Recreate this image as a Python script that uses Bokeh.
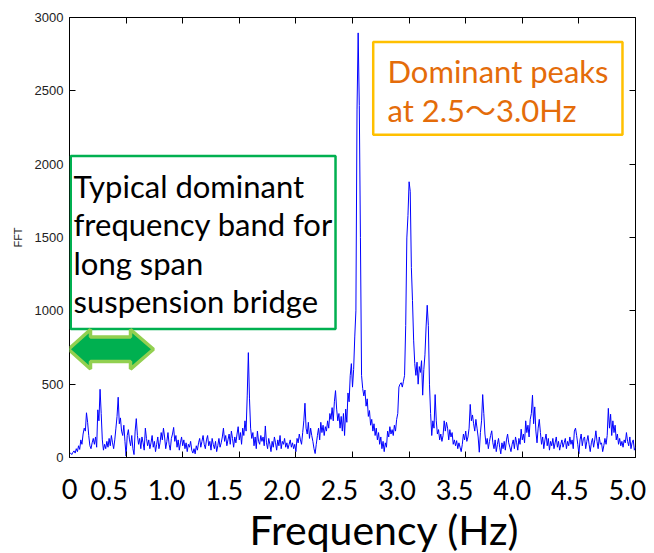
from bokeh.plotting import figure
from bokeh.models import (Range1d, LinearAxis, FixedTicker, BoxAnnotation,
                          PolyAnnotation, Label, Title, CustomLabelingPolicy)
from bokeh.embed import file_html
from bokeh.resources import INLINE

# ---------------- data (FFT amplitude, 0.01 Hz steps) ----------------
amp_000 = [25, 30, 20, 35, 45, 30, 60, 40, 80, 55, 120, 90, 160, 200, 180, 305, 240, 150, 80, 60, 100, 130, 90, 140, 70]
amp_025 = [325, 250, 465, 300, 120, 50, 90, 60, 110, 70, 130, 80, 150, 100, 60, 120, 200, 280, 411, 230, 270, 180, 150, 220, 110]
amp_050 = [10, 150, 190, 120, 80, 150, 60, 20, 180, 265, 150, 90, 130, 60, 140, 100, 50, 200, 130, 80, 120, 60, 100, 150, 70]
amp_075 = [110, 40, 90, 140, 60, 100, 170, 120, 200, 140, 60, 110, 170, 90, 50, 130, 160, 205, 110, 150, 70, 120, 50, 100, 140]
amp_100 = [80, 120, 60, 100, 40, 90, 70, 110, 50, 30, 60, 25, 80, 50, 100, 130, 70, 110, 150, 90, 60, 120, 150, 80, 110]
amp_125 = [50, 130, 90, 60, 110, 40, 80, 130, 70, 100, 140, 200, 110, 150, 80, 120, 160, 90, 180, 130, 70, 140, 100, 160, 210]
amp_150 = [120, 170, 90, 200, 150, 250, 180, 420, 715, 400, 200, 130, 170, 80, 140, 60, 180, 110, 90, 150, 110, 140, 80, 215, 100]
amp_175 = [60, 130, 90, 40, 110, 70, 140, 100, 50, 120, 80, 150, 60, 110, 90, 130, 70, 100, 60, 90, 120, 70, 100, 60, 90]
amp_200 = [40, 130, 100, 160, 120, 90, 170, 250, 370, 200, 160, 240, 130, 200, 150, 110, 60, 27, 90, 150, 200, 120, 240, 170, 220]
amp_225 = [150, 210, 180, 250, 200, 300, 260, 340, 250, 380, 456, 330, 250, 300, 200, 280, 180, 300, 150, 330, 240, 440, 380, 560, 640]
amp_250 = [480, 600, 822, 1000, 2370, 2895, 2400, 1500, 560, 470, 420, 460, 350, 400, 280, 320, 220, 260, 180, 230, 150, 200, 120, 170, 90]
amp_275 = [140, 60, 110, 40, 100, 70, 180, 140, 210, 160, 190, 150, 220, 180, 260, 300, 480, 500, 510, 480, 520, 560, 900, 1497, 1650]
amp_300 = [1880, 1815, 1295, 1070, 800, 640, 560, 650, 500, 620, 580, 660, 425, 600, 700, 890, 1038, 900, 500, 300, 150, 250, 200, 429, 250]
amp_325 = [160, 190, 120, 160, 110, 150, 250, 180, 240, 200, 120, 190, 140, 170, 90, 120, 80, 115, 60, 100, 70, 40, 90, 160, 120]
amp_350 = [180, 110, 140, 200, 362, 250, 290, 230, 180, 260, 200, 140, 36, 170, 250, 429, 300, 160, 90, 130, 60, 110, 150, 182, 100]
amp_375 = [60, 120, 40, 90, 130, 70, 25, 100, 60, 110, 50, 120, 160, 100, 70, 40, 90, 120, 60, 140, 100, 50, 130, 90, 193]
amp_400 = [120, 160, 100, 250, 170, 220, 140, 260, 300, 425, 230, 345, 180, 100, 200, 260, 170, 90, 140, 60, 120, 160, 80, 130, 50]
amp_425 = [110, 80, 130, 60, 100, 140, 70, 110, 50, 90, 120, 70, 100, 130, 60, 110, 80, 140, 90, 120, 60, 180, 200, 150, 90]
amp_450 = [25, 120, 160, 80, 130, 140, 60, 110, 150, 90, 40, 100, 130, 70, 120, 182, 110, 60, 140, 90, 100, 40, 80, 130, 90]
amp_475 = [150, 335, 200, 295, 150, 250, 170, 220, 120, 160, 90, 130, 80, 110, 70, 120, 100, 170, 110, 80, 140, 60, 100, 120, 50]
amp_500 = [70]

fft_amp = (amp_000 + amp_025 + amp_050 + amp_075 + amp_100 + amp_125 + amp_150 +
           amp_175 + amp_200 + amp_225 + amp_250 + amp_275 + amp_300 + amp_325 +
           amp_350 + amp_375 + amp_400 + amp_425 + amp_450 + amp_475 + amp_500)
freq_step = 0.01
freq_hz = [round(i * freq_step, 2) for i in range(len(fft_amp))]

x_ticks = [0.0, 0.5, 1.0, 1.5, 2.0, 2.5, 3.0, 3.5, 4.0, 4.5, 5.0]
x_tick_labels = ["0", "0.5", "1.0", "1.5", "2.0", "2.5", "3.0", "3.5", "4.0", "4.5", "5.0"]
y_ticks = [0, 500, 1000, 1500, 2000, 2500, 3000]
y_tick_labels = ["0", "500", "1000", "1500", "2000", "2500", "3000"]

green_lines = ["Typical dominant", "frequency band for", "long span", "suspension bridge"]
orange_lines = ["Dominant peaks", "at 2.5\uff5e3.0Hz"]
x_title = "Frequency (Hz)"
y_title = "FFT"

# ---------------- figure ----------------
PX_PER_HZ = 113.2
U = 3000.0 / 445.0            # data units per vertical pixel

p = figure(width=654, height=553, output_backend="svg", toolbar_location=None,
           x_range=Range1d(0, 5), y_range=Range1d(0, 3000),
           x_axis_location=None, y_axis_location=None,
           min_border_left=69, min_border_right=19, min_border_top=17, min_border_bottom=91,
           outline_line_color="black", outline_line_width=1)
p.grid.visible = False
p.background_fill_color = "white"
p.border_fill_color = "white"
# the slide's tick labels sit slightly left of their ticks
p.extra_x_ranges = {"lab": Range1d((69 - 50.9) / 115.2, (635 - 50.9) / 115.2)}

no_labels = CustomLabelingPolicy(code="""
const n = indices.size
for (let i = 0; i < n; i++) indices.unset(i)
return indices
""")
first_label_only = CustomLabelingPolicy(code="""
const n = indices.size
for (let i = 1; i < n; i++) indices.unset(i)
return indices
""")

def tick_only_axis(ticks):
    return LinearAxis(ticker=FixedTicker(ticks=ticks), major_tick_in=6, major_tick_out=0,
                      minor_tick_line_color=None, axis_line_color=None,
                      major_tick_line_color="black", major_label_policy=no_labels,
                      major_label_text_font_size="1px", major_label_standoff=0)

yax = LinearAxis(ticker=FixedTicker(ticks=y_ticks),
                 major_label_overrides=dict(zip(y_ticks, y_tick_labels)),
                 major_tick_in=6, major_tick_out=0, minor_tick_line_color=None,
                 axis_line_color=None, major_tick_line_color="black",
                 major_label_text_font="Liberation Sans", major_label_text_font_size="13px",
                 major_label_text_color="#222222", major_label_standoff=6,
                 axis_label=y_title, axis_label_text_font="Liberation Sans",
                 axis_label_text_font_size="11px", axis_label_text_font_style="normal",
                 axis_label_text_color="#222222", axis_label_standoff=8)
p.add_layout(yax, "left")
p.add_layout(tick_only_axis(y_ticks), "right")
p.add_layout(tick_only_axis(x_ticks), "above")

LABEL_FONT = "27px"
# bottom axis: inward ticks, carries the "0" label at the origin
xax = LinearAxis(ticker=FixedTicker(ticks=x_ticks),
                 major_label_overrides=dict(zip(x_ticks, x_tick_labels)),
                 major_tick_in=6, major_tick_out=0, minor_tick_line_color=None,
                 axis_line_color=None, major_tick_line_color="black",
                 major_label_policy=first_label_only,
                 major_label_text_font="Lato", major_label_text_font_size=LABEL_FONT,
                 major_label_text_color="black", major_label_standoff=21)
p.add_layout(xax, "below")
# remaining tick labels, raised to the same row as "0"
xlab = LinearAxis(x_range_name="lab", ticker=FixedTicker(ticks=x_ticks),
                  major_label_overrides=dict(zip(x_ticks, x_tick_labels)),
                  major_tick_line_color=None, major_tick_in=0, major_tick_out=0,
                  minor_tick_line_color=None, axis_line_color=None,
                  major_label_text_font="Lato", major_label_text_font_size=LABEL_FONT,
                  major_label_text_color="black", major_label_standoff=-22)
p.add_layout(xlab, "below")

p.add_layout(Title(text=x_title, align="left", offset=180, text_font="Lato",
                   text_font_size="41px", text_font_style="normal",
                   text_line_height=0.7, text_color="black", standoff=0), "below")

# spectrum
p.line(freq_hz, fft_amp, line_color="#0000FF", line_width=1)

# annotation boxes
p.add_layout(BoxAnnotation(left=1.25 / PX_PER_HZ, right=2.35, bottom=876, top=2056,
                           fill_color="white", fill_alpha=1.0, level="overlay",
                           line_color="#00B050", line_width=2.5, line_alpha=1.0))
p.add_layout(BoxAnnotation(left=2.683, right=4.885, bottom=2200, top=2833,
                           fill_color="white", fill_alpha=1.0, level="overlay",
                           line_color="#FFC000", line_width=2.5, line_alpha=1.0))

shift = 9 * U
green_baselines = [1793, 1530, 1267, 1004]
for txt, yb in zip(green_lines, green_baselines):
    p.add_layout(Label(x=4 / PX_PER_HZ, y=yb + shift, text=txt, text_font="Lato",
                       text_font_size="31px", text_color="black",
                       text_baseline="alphabetic", text_align="left", level="overlay"))

orange_baselines = [2575, 2312]
for txt, yb in zip(orange_lines, orange_baselines):
    p.add_layout(Label(x=2.809, y=yb + shift, text=txt,
                       text_font="Lato, 'Noto Sans CJK JP'",
                       text_font_size="31px", text_color="#E46C0A",
                       text_baseline="alphabetic", text_align="left", level="overlay"))

# double-headed arrow
aL, hL, hR, aR = -0.009, 0.1855, 0.539, 0.742
yc, ht, hb, st, sb = 738, 873, 603, 822, 654
p.add_layout(PolyAnnotation(
    xs=[aL, hL, hL, hR, hR, aR, hR, hR, hL, hL],
    ys=[yc, ht, st, st, ht, yc, hb, sb, sb, hb],
    fill_color="#00B050", fill_alpha=1.0, line_color="#92D050", line_width=3.5,
    line_alpha=1.0, level="overlay"))

open("out.html", "w").write(file_html(p, INLINE))
